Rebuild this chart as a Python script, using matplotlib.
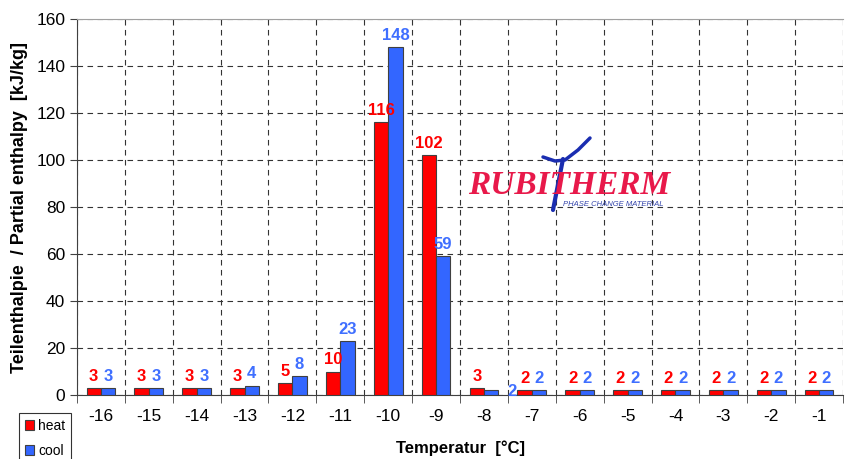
import matplotlib.pyplot as plt
from matplotlib.lines import Line2D
import numpy as np

plt.rcParams['font.family'] = ['Liberation Sans', 'DejaVu Sans']

# --------- DATA ---------
temps = ["-16", "-15", "-14", "-13", "-12", "-11", "-10", "-9",
         "-8", "-7", "-6", "-5", "-4", "-3", "-2", "-1"]
heat = [3, 3, 3, 3, 5, 10, 116, 102, 3, 2, 2, 2, 2, 2, 2, 2]
cool = [3, 3, 3, 4, 8, 23, 148, 59, 2, 2, 2, 2, 2, 2, 2, 2]

RED = "#FF0000"
BLUE = "#3366FF"
LBL_BLUE = "#3F6FFF"

fig = plt.figure(figsize=(8.46, 4.59), dpi=100)
ax = fig.add_axes([0.091, 0.1394, 0.9055, 0.8192])

x = np.arange(len(temps))
w = 0.3
ax.bar(x - w / 2, heat, w, color=RED, edgecolor="#404040", linewidth=0.8, label="heat", zorder=3)
ax.bar(x + w / 2, cool, w, color=BLUE, edgecolor="#404040", linewidth=0.8, label="cool", zorder=3)

# data labels
for i in range(len(temps)):
    ax.annotate(str(heat[i]), (x[i] - w / 2, heat[i]), xytext=(0, 3),
                textcoords="offset points", ha="center", va="bottom",
                color=RED, fontsize=12, fontweight="bold")
    if temps[i] == "-8":
        # this one sits displaced in the original
        ax.annotate(str(cool[i]), (x[i] + w / 2, cool[i]), xytext=(15, -6),
                    textcoords="offset points", ha="center", va="bottom",
                    color=LBL_BLUE, fontsize=12, fontweight="bold")
    else:
        ax.annotate(str(cool[i]), (x[i] + w / 2, cool[i]), xytext=(0, 3),
                    textcoords="offset points", ha="center", va="bottom",
                    color=LBL_BLUE, fontsize=12, fontweight="bold")

ax.set_xlim(-0.5, len(temps) - 0.5)
ax.set_ylim(0, 160)
ax.set_yticks(range(0, 161, 20))
ax.set_xticks(x)
ax.set_xticklabels(temps, fontsize=12.5)
ax.set_xticks(np.arange(-0.5, len(temps)), minor=True)
ax.tick_params(axis="x", which="major", length=0, pad=10)
ax.tick_params(axis="x", which="minor", length=6, color="#404040", direction="out")
ax.tick_params(axis="y", labelsize=12.5, length=5, color="#404040", direction="out")

ax.grid(axis="y", which="major", linestyle=(0, (5, 4)), color="#333333", linewidth=0.8)
ax.grid(axis="x", which="minor", linestyle=(0, (5, 4)), color="#333333", linewidth=0.8)
ax.grid(axis="x", which="major", visible=False)
ax.set_axisbelow(True)

for s in ["left", "bottom"]:
    ax.spines[s].set_color("#404040")
ax.spines["top"].set_color("#A0A0A0")
ax.spines["right"].set_visible(False)

ax.set_xlabel("Temperatur  [°C]", fontsize=12, fontweight="bold", labelpad=12)
ax.set_ylabel("Teilenthalpie  / Partial enthalpy  [kJ/kg]", fontsize=13, fontweight="bold", labelpad=6)

leg = fig.legend(loc="upper left", bbox_to_anchor=(12 / 846, 1 - 406 / 459),
                 fontsize=10, frameon=True, fancybox=False, edgecolor="black",
                 handlelength=0.7, handleheight=0.7, handletextpad=0.3,
                 borderpad=0.4, labelspacing=0.8)
leg.get_frame().set_linewidth(0.8)

# logo
fig.text(468 / 846, 1 - 186 / 459, "RUBITHERM", fontsize=24, fontweight="bold",
         fontstyle="italic", family="Liberation Serif", color="#E8194A", va="center", ha="left")
fig.text(563 / 846, 1 - 205 / 459, "PHASE CHANGE MATERIAL", fontsize=5.5, fontstyle="italic",
         color="#3344AA", va="center", ha="left")
fig.add_artist(Line2D([563 / 846, 553 / 846], [1 - 159 / 459, 1 - 210 / 459],
                      color="#1A2DB0", linewidth=3, solid_capstyle="round", transform=fig.transFigure))
fig.add_artist(Line2D([543 / 846, 555 / 846, 565 / 846, 578 / 846, 590 / 846],
                      [1 - 157 / 459, 1 - 161 / 459, 1 - 160 / 459, 1 - 150 / 459, 1 - 138 / 459],
                      color="#1A2DB0", linewidth=2.5, solid_capstyle="round", transform=fig.transFigure))

fig.savefig("out.png", dpi=100)
